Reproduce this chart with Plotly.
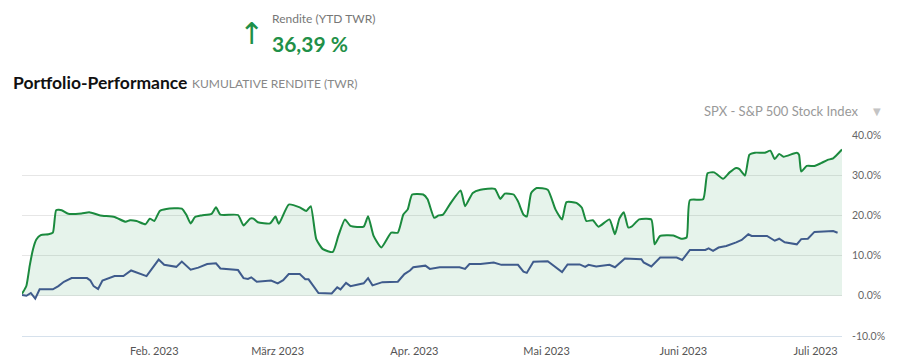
import plotly.graph_objects as go

# Portfolio cumulative return (TWR), %
portfolio_dates = [
    "2023-01-02", "2023-01-03", "2023-01-03 18:00", "2023-01-04 12:00", "2023-01-05 06:00",
    "2023-01-06 06:00", "2023-01-08", "2023-01-09", "2023-01-09 18:00", "2023-01-11",
    "2023-01-12 12:00", "2023-01-15 12:00", "2023-01-17 06:00", "2023-01-19 18:00", "2023-01-23",
    "2023-01-25 12:00", "2023-01-26 12:00", "2023-01-28", "2023-01-30", "2023-01-31",
    "2023-02-01", "2023-02-02 06:00", "2023-02-03 18:00", "2023-02-07 06:00", "2023-02-08 06:00",
    "2023-02-09 06:00", "2023-02-10 06:00", "2023-02-11 18:00", "2023-02-14", "2023-02-15",
    "2023-02-16", "2023-02-20", "2023-02-21 06:00", "2023-02-22 18:00", "2023-02-23 12:00",
    "2023-02-24 12:00", "2023-02-27 06:00", "2023-02-28 12:00", "2023-03-01 06:00", "2023-03-03 12:00",
    "2023-03-06", "2023-03-07 12:00", "2023-03-08 12:00", "2023-03-09 18:00", "2023-03-11 06:00",
    "2023-03-13 12:00", "2023-03-14 18:00", "2023-03-16 06:00", "2023-03-17 12:00", "2023-03-20 12:00",
    "2023-03-21 12:00", "2023-03-22 18:00", "2023-03-24 12:00", "2023-03-26 18:00", "2023-03-28 06:00",
    "2023-03-29 12:00", "2023-03-30 12:00", "2023-03-31 12:00", "2023-04-03", "2023-04-04",
    "2023-04-05 12:00", "2023-04-06 12:00", "2023-04-07 12:00", "2023-04-09", "2023-04-11 12:00",
    "2023-04-12 12:00", "2023-04-14 06:00", "2023-04-16", "2023-04-19 06:00", "2023-04-20 12:00",
    "2023-04-21 12:00", "2023-04-23 12:00", "2023-04-24 12:00", "2023-04-25 18:00", "2023-04-26 12:00",
    "2023-04-27 12:00", "2023-04-28 18:00", "2023-05-01 06:00", "2023-05-03", "2023-05-04 12:00",
    "2023-05-05 12:00", "2023-05-07 18:00", "2023-05-09", "2023-05-10", "2023-05-11 12:00",
    "2023-05-12 18:00", "2023-05-15 06:00", "2023-05-16 12:00", "2023-05-17 12:00", "2023-05-18 12:00",
    "2023-05-19 12:00", "2023-05-20 06:00", "2023-05-22", "2023-05-24 18:00", "2023-05-25 12:00",
    "2023-05-26 18:00", "2023-05-29 18:00", "2023-05-31 12:00", "2023-06-01 18:00", "2023-06-02 12:00",
    "2023-06-05 12:00", "2023-06-06 12:00", "2023-06-08", "2023-06-10", "2023-06-11 12:00",
    "2023-06-13", "2023-06-13 18:00", "2023-06-15", "2023-06-16", "2023-06-17 06:00",
    "2023-06-19 12:00", "2023-06-20 18:00", "2023-06-21 18:00", "2023-06-22 18:00", "2023-06-23 18:00",
    "2023-06-26 18:00", "2023-06-27 06:00", "2023-06-27 18:00", "2023-06-29", "2023-06-30 18:00",
    "2023-07-02 06:00", "2023-07-03 18:00", "2023-07-05", "2023-07-07",
]
portfolio_values = [
    0.5, 2.5, 7.5, 11.6, 14.0,
    15.1, 15.3, 15.7, 21.3, 21.3,
    20.4, 20.5, 20.8, 20.0, 19.6,
    18.4, 18.8, 18.6, 17.8, 19.2,
    18.6, 21.1, 21.6, 21.7, 20.2,
    18.0, 19.6, 20.0, 20.4, 22.0,
    20.2, 20.1, 17.5, 19.2, 19.2,
    18.3, 18.0, 19.7, 17.9, 22.7,
    22.0, 21.1, 22.3, 14.1, 11.6,
    10.9, 14.9, 19.0, 17.4, 17.2,
    19.8, 14.9, 12.0, 15.7, 15.7,
    20.2, 21.5, 25.2, 25.2, 24.0,
    19.4, 20.0, 20.2, 22.7, 26.2,
    22.3, 25.6, 26.4, 26.6, 24.1,
    25.4, 25.2, 23.5, 20.2, 19.7,
    25.6, 26.8, 26.4, 21.5, 19.0,
    23.3, 23.1, 21.9, 18.6, 18.8,
    17.2, 19.0, 15.3, 19.2, 20.8,
    17.0, 17.2, 19.0, 19.0, 12.8,
    14.9, 15.0, 14.2, 14.5, 23.8,
    24.0, 30.5, 30.7, 29.1, 30.7,
    31.8, 31.5, 29.9, 35.1, 35.6,
    35.6, 36.1, 34.0, 35.3, 34.6,
    35.6, 35.1, 30.9, 32.3, 32.3,
    33.0, 33.8, 34.2, 36.39,
]

# Benchmark: SPX - S&P 500 Stock Index, %
benchmark_dates = [
    "2023-01-02", "2023-01-03", "2023-01-04", "2023-01-05", "2023-01-06",
    "2023-01-09", "2023-01-10 06:00", "2023-01-11 12:00", "2023-01-13 06:00", "2023-01-16 18:00",
    "2023-01-17 12:00", "2023-01-18 06:00", "2023-01-19 06:00", "2023-01-20 06:00", "2023-01-23",
    "2023-01-25", "2023-01-26 18:00", "2023-01-30 06:00", "2023-02-02", "2023-02-03 06:00",
    "2023-02-06", "2023-02-07 06:00", "2023-02-09 06:00", "2023-02-11", "2023-02-13",
    "2023-02-15", "2023-02-16", "2023-02-18 06:00", "2023-02-20", "2023-02-21 06:00",
    "2023-02-22 06:00", "2023-02-23", "2023-02-24 06:00", "2023-02-27 12:00", "2023-03-01",
    "2023-03-02 06:00", "2023-03-03 12:00", "2023-03-06", "2023-03-07 06:00", "2023-03-08",
    "2023-03-10 06:00", "2023-03-13 06:00", "2023-03-14 12:00", "2023-03-15 06:00", "2023-03-16 12:00",
    "2023-03-17 12:00", "2023-03-20 12:00", "2023-03-21 12:00", "2023-03-22 12:00", "2023-03-24 18:00",
    "2023-03-28 06:00", "2023-03-29 18:00", "2023-03-31", "2023-03-31 18:00", "2023-04-03 12:00",
    "2023-04-04 12:00", "2023-04-06 18:00", "2023-04-11 06:00", "2023-04-12 12:00", "2023-04-13 12:00",
    "2023-04-16", "2023-04-19", "2023-04-20 18:00", "2023-04-24 12:00", "2023-04-25 18:00",
    "2023-04-26 12:00", "2023-04-28", "2023-05-01 06:00", "2023-05-03", "2023-05-04 12:00",
    "2023-05-05 18:00", "2023-05-08 12:00", "2023-05-09 18:00", "2023-05-10 12:00", "2023-05-12 06:00",
    "2023-05-15 06:00", "2023-05-16 12:00", "2023-05-18 18:00", "2023-05-22 12:00", "2023-05-23",
    "2023-05-24 18:00", "2023-05-26 18:00", "2023-05-30 12:00", "2023-05-31 18:00", "2023-06-02 12:00",
    "2023-06-06", "2023-06-06 18:00", "2023-06-07 18:00", "2023-06-09", "2023-06-10 18:00",
    "2023-06-13", "2023-06-14 06:00", "2023-06-15 18:00", "2023-06-16 12:00", "2023-06-20",
    "2023-06-21 18:00", "2023-06-22 18:00", "2023-06-24", "2023-06-26 18:00", "2023-06-27 18:00",
    "2023-06-29 06:00", "2023-06-30 18:00", "2023-07-05", "2023-07-06",
]
benchmark_values = [
    0.2, 0.0, 0.7, -0.7, 1.6,
    1.6, 2.4, 3.5, 4.4, 4.4,
    3.8, 2.4, 1.7, 3.8, 4.9,
    4.9, 6.3, 4.9, 9.0, 7.7,
    7.2, 8.5, 6.5, 7.0, 7.9,
    8.1, 6.8, 6.5, 6.4, 4.4,
    4.2, 4.6, 3.5, 3.8, 3.1,
    3.9, 5.4, 5.4, 4.1, 4.1,
    0.7, 0.6, 2.1, 1.6, 3.2,
    2.4, 3.1, 4.4, 2.6, 3.4,
    3.5, 5.4, 6.3, 7.1, 7.5,
    6.7, 7.1, 7.1, 6.7, 7.9,
    7.9, 8.3, 7.7, 7.7, 6.0,
    5.7, 8.5, 8.6, 7.1, 5.9,
    7.8, 7.8, 7.2, 7.7, 7.3,
    7.7, 7.1, 9.3, 9.1, 8.3,
    7.3, 9.5, 9.5, 8.9, 11.4,
    11.4, 11.8, 11.2, 12.0, 12.4,
    13.3, 13.9, 15.3, 14.9, 14.9,
    13.7, 14.2, 13.3, 12.8, 14.1,
    14.2, 15.9, 16.1, 15.7,
]

month_ticks = ["2023-02-01", "2023-03-01", "2023-04-01", "2023-05-01", "2023-06-01", "2023-07-01"]
month_labels = ["Feb. 2023", "März 2023", "Apr. 2023", "Mai 2023", "Juni 2023", "Juli 2023"]
y_ticks = [-10, 0, 10, 20, 30, 40]
y_labels = ["-10.0%", "\u20070.0%", "10.0%", "20.0%", "30.0%", "40.0%"]

FONT = "Lato, Open Sans, sans-serif"
GREEN = "#1b8a3e"
BLUE = "#3f5b8c"

W, H = 901, 364
ML, MR, MT, MB = 22, 59, 135, 28
PW, PH = W - ML - MR, H - MT - MB


def px(x):
    return (x - ML) / PW


def py(y):
    return 1 - (y - MT) / PH


fig = go.Figure()
fig.add_trace(go.Scatter(
    x=portfolio_dates, y=portfolio_values, mode="lines",
    line=dict(color=GREEN, width=2, shape="spline", smoothing=0.5),
    fill="tozeroy", fillcolor="rgba(46,160,90,0.12)",
    hoverinfo="skip", showlegend=False,
))
fig.add_trace(go.Scatter(
    x=benchmark_dates, y=benchmark_values, mode="lines",
    line=dict(color=BLUE, width=2),
    hoverinfo="skip", showlegend=False,
))

header = [
    ("\u2191", 251, 34, dict(size=30, color="#1f9048", family="DejaVu Sans"), "center"),
    ("Rendite (YTD TWR)", 270, 19, dict(size=12, color="#777"), "left"),
    ("<b>36,39 %</b>", 270, 44, dict(size=21, color="#1f9048"), "left"),
    ("<b>Portfolio-Performance</b>", 11, 82, dict(size=17.5, color="#111"), "left"),
    ("KUMULATIVE RENDITE (TWR)", 190, 83, dict(size=12, color="#888"), "left"),
    ("SPX - S&P 500 Stock Index", 860, 111, dict(size=13, color="#999"), "right"),
    ("\u25bc", 877, 111, dict(size=10, color="#c4c4c4", family="DejaVu Sans"), "center"),
]

fig.update_layout(
    width=W, height=H,
    margin=dict(l=ML, r=MR, t=MT, b=MB, autoexpand=False),
    paper_bgcolor="white", plot_bgcolor="white",
    font=dict(family=FONT, color="#666"),
    xaxis=dict(
        type="date", range=["2023-01-02", "2023-07-07"],
        tickvals=month_ticks, ticktext=month_labels,
        showgrid=False, zeroline=False, automargin=False,
        showline=True, linecolor="#d6e1ec", linewidth=1,
        ticks="", tickfont=dict(size=11, color="#555"),
        ticklabelstandoff=5,
    ),
    yaxis=dict(
        side="right", range=[-10, 40], automargin=False,
        tickvals=y_ticks, ticktext=y_labels,
        showgrid=True, gridcolor="#e6e6e6", gridwidth=1,
        zeroline=False, ticks="",
        tickfont=dict(size=10.5, color="#666"),
        ticklabelstandoff=9,
    ),
    annotations=[
        dict(text=t, x=px(x), y=py(y), xref="paper", yref="paper", showarrow=False,
             font=f, xanchor=xa, yanchor="middle")
        for (t, x, y, f, xa) in header
    ],
)

fig.write_html(
    "out.html",
    config={"displayModeBar": False},
    post_script="document.body.style.margin='0';document.body.style.overflow='hidden';",
)
